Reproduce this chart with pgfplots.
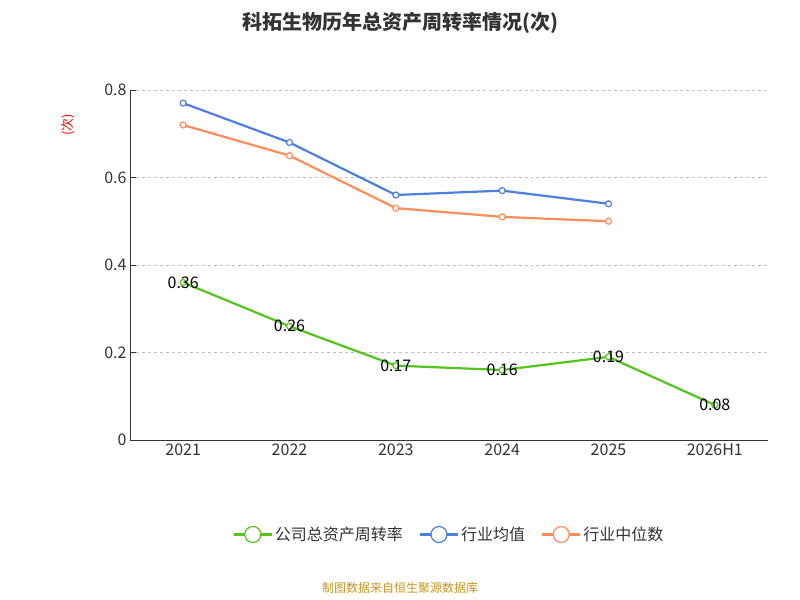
\documentclass[border=0pt]{standalone}
\usepackage{pgfplots}
\pgfplotsset{compat=1.18}
\usepackage{fontspec}
\setmainfont{Noto Sans CJK SC}
\definecolor{cg}{HTML}{52C41A}
\definecolor{cb}{HTML}{4E7FE0}
\definecolor{co}{HTML}{FF8C5A}
\definecolor{ax}{HTML}{333333}
\definecolor{src}{HTML}{C8961E}
\begin{document}
\begin{tikzpicture}
\path[fill=white] (0,0) rectangle (800bp,600bp);
\node[font=\bfseries\fontsize{20bp}{24bp}\selectfont, text=ax] at (400bp,577bp) {科拓生物历年总资产周转率情况(次)};
\node[rotate=90, text=red, font=\fontsize{13bp}{15bp}\selectfont] at (68bp,475bp) {(次)};
\begin{axis}[at={(130bp,160bp)}, anchor=south west, scale only axis,
  width=638bp, height=350bp,
  xmin=-0.5, xmax=5.5, ymin=0, ymax=0.8,
  xtick={0,...,5}, xticklabels={2021,2022,2023,2024,2025,2026H1},
  extra x ticks={-0.5,0.5,1.5,2.5,3.5,4.5,5.5}, extra x tick labels={},
  extra x tick style={major tick length=6bp, tick style={ax}, grid=none},
  xtick style={draw=none},
  ytick={0,0.2,0.4,0.6,0.8},
  yticklabel style={/pgf/number format/fixed},
  /pgf/number format/assume math mode=true,
  ymajorgrids, grid style={dashed, gray!50, line width=0.8pt},
  axis x line*=bottom, axis y line*=left,
  axis line style={ax, line width=0.8pt},
  ytick style={ax}, major tick length=6bp,
  tick label style={font=\fontsize{16bp}{18bp}\selectfont, text=ax},
  clip=false,
  every axis plot/.append style={line width=2.2pt, mark=*, mark size=3bp, mark options={fill=white, line width=1.2pt}},
  legend style={at={(0.5,-0.27)}, anchor=center, draw=none, legend columns=3, font=\fontsize{16bp}{18bp}\selectfont, text=ax, /tikz/every even column/.append style={column sep=14bp}},
  legend image code/.code={\draw[#1] (0bp,0bp) -- (38bp,0bp); \draw[#1, fill=white, line width=1.2pt] (19bp,0bp) circle (8bp);},
]
\addplot[cg, nodes near coords, point meta=explicit symbolic, every node near coord/.style={anchor=center, font=\fontsize{16bp}{18bp}\selectfont, text=black}] coordinates {(0,0.36)[0.36] (1,0.26)[0.26] (2,0.17)[0.17] (3,0.16)[0.16] (4,0.19)[0.19] (5,0.08)[0.08]};
\addlegendentry{公司总资产周转率}
\addplot[cb] coordinates {(0,0.77) (1,0.68) (2,0.56) (3,0.57) (4,0.54)};
\addlegendentry{行业均值}
\addplot[co] coordinates {(0,0.72) (1,0.65) (2,0.53) (3,0.51) (4,0.50)};
\addlegendentry{行业中位数}
\end{axis}
\node[text=src, font=\fontsize{12bp}{14bp}\selectfont] at (400bp,12bp) {制图数据来自恒生聚源数据库};
\end{tikzpicture}
\end{document}
